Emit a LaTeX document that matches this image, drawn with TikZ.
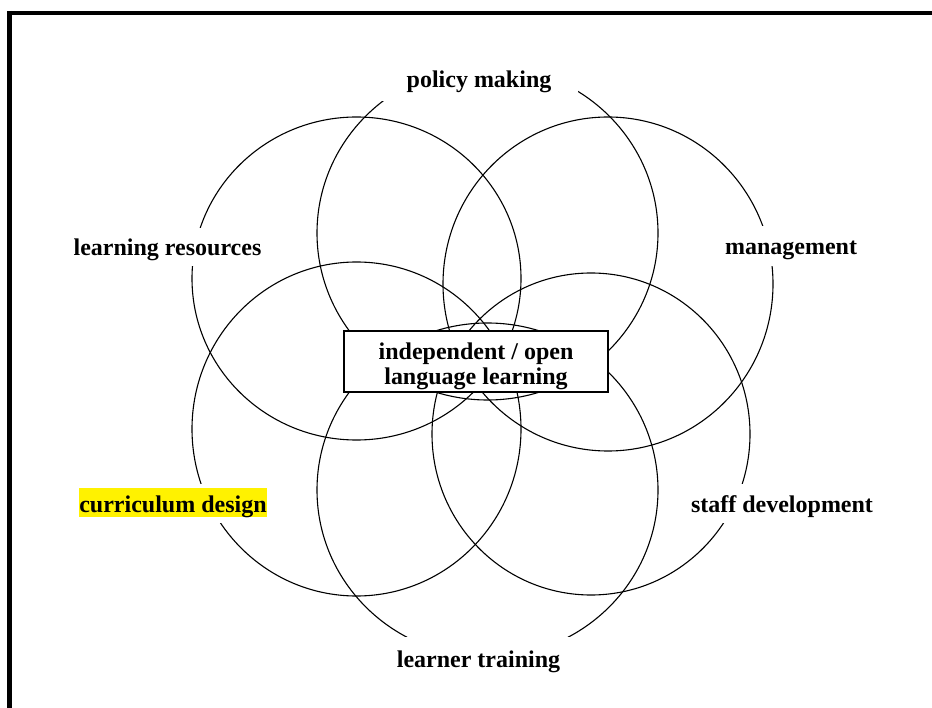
\documentclass[tikz,border=0pt]{standalone}
\usepackage{fontspec}
\setmainfont{Liberation Serif}
\begin{document}
\begin{tikzpicture}[x=1pt,y=-1pt,
  ring/.style={line width=1.1pt},
  frameline/.style={line width=4.5pt},
  lbl/.style={fill=white, inner sep=0pt, font=\bfseries\fontsize{24}{25}\selectfont,
              text height=19pt, text depth=2pt, align=center},
  centerbox/.style={draw, fill=white, line width=1.1pt, inner sep=0pt},
  centertext/.style={inner sep=0pt, font=\bfseries\fontsize{24}{25}\selectfont, align=center}]
\useasboundingbox (0,0) rectangle (932,708);
% frame
\coordinate (ftl) at (7,13);
\coordinate (ftr) at (932,13);
\coordinate (fl1) at (9.5,11);
\coordinate (fl2) at (9.5,708);
\draw[frameline] (ftl) -- (ftr);
\draw[frameline] (fl1) -- (fl2);
% six rings
\draw[ring] (487.5,233) ellipse [x radius=170.5pt, y radius=167pt];
\draw[ring] (487.5,490) ellipse [x radius=170.5pt, y radius=167pt];
\draw[ring] (356.5,278.5) ellipse [x radius=164.5pt, y radius=161.5pt];
\draw[ring] (356.5,429) ellipse [x radius=164.5pt, y radius=167pt];
\draw[ring] (608,284) ellipse [x radius=165pt, y radius=167pt];
\draw[ring] (591,434) ellipse [x radius=159pt, y radius=161pt];
% labels
\node[lbl, minimum width=198pt, minimum height=44pt] (pm) at (479,79.5) {policy making};
\node[lbl, minimum width=205pt, minimum height=38pt] (lr) at (167.5,247.5) {learning resources};
\node[lbl, minimum width=150pt, minimum height=40pt] (mg) at (791,246.5) {management};
\node[lbl, minimum width=200pt, minimum height=39pt] (sd) at (782,503.5) {staff development};
\node[lbl, minimum width=205pt, minimum height=39pt] (cd) at (173,503.5)
  {{\setlength{\fboxsep}{0pt}\colorbox{yellow}{\rule[-5pt]{0pt}{29pt}curriculum design}}};
\node[lbl, minimum width=200pt, minimum height=43pt] (lt) at (478.5,658.5) {learner training};
% centre
\node[centerbox, minimum width=264pt, minimum height=61pt] (ctr) at (476,361.5) {};
\node[centertext] (ctrtext) at ([yshift=-4.5pt]ctr.center)
  {independent / open\\language learning};
\end{tikzpicture}
\end{document}
